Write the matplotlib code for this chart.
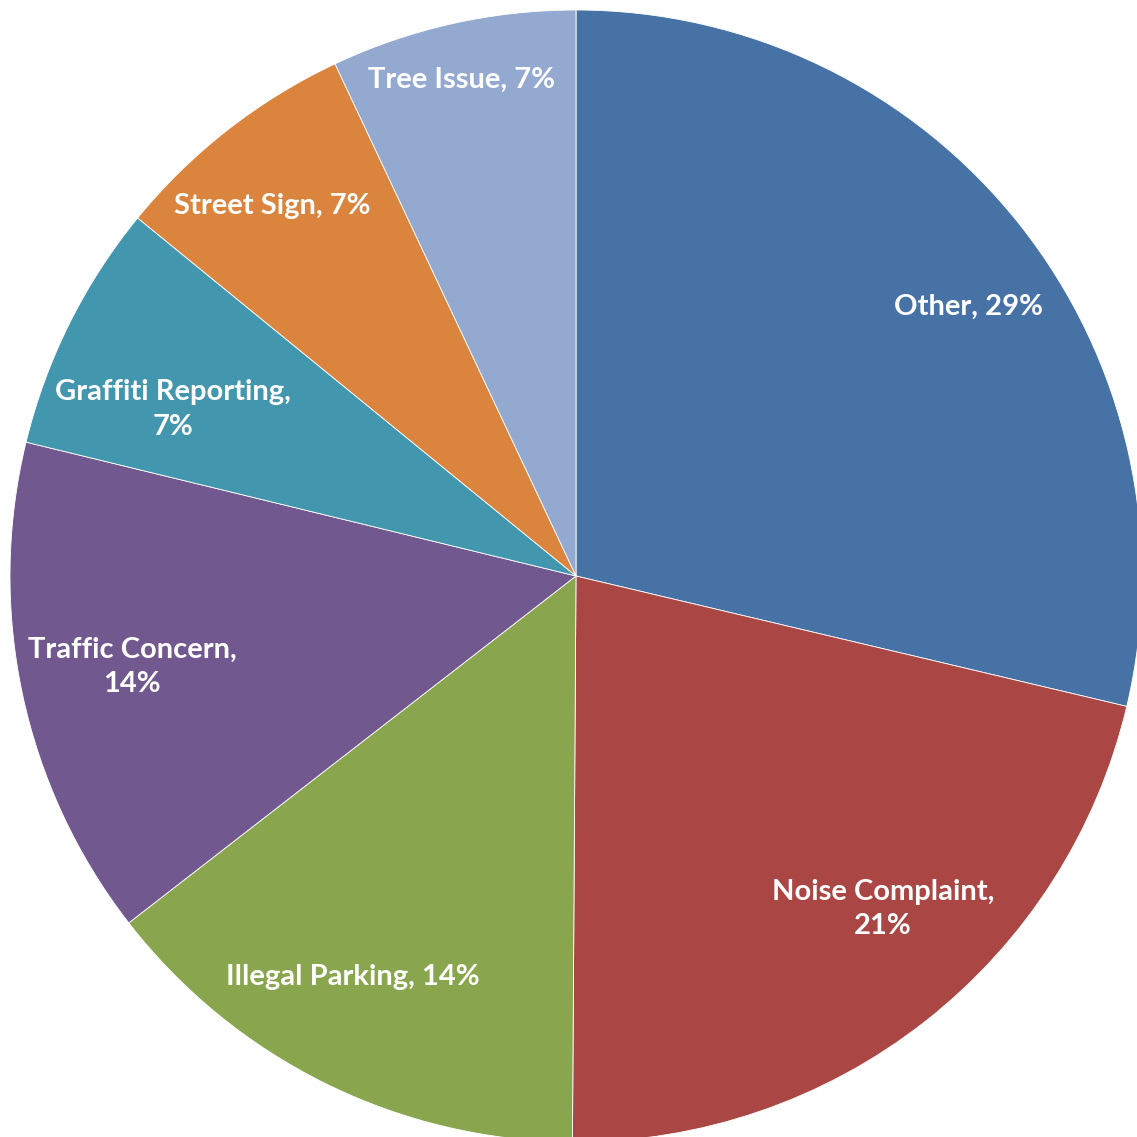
import numpy as np
import matplotlib
matplotlib.use('Agg')
import matplotlib.pyplot as plt

# complaint categories, clockwise from 12 o'clock
categories = ['Other', 'Noise Complaint', 'Illegal Parking', 'Traffic Concern',
              'Graffiti Reporting', 'Street Sign', 'Tree Issue']
shares = [28.7, 21.4, 14.4, 14.3, 7.1, 7.1, 7.0]
colors = ['#4672A6', '#AA4744', '#89A54E', '#71598F', '#4297AF', '#DB843D', '#94A9CF']

# where the label line breaks after the comma
wrapLabel = [False, True, False, True, True, False, False]
# label placement: distance from centre (fraction of radius), angle shift from wedge middle
labelRadius = [0.84, 0.80, 0.81, 0.80, 0.77, 0.845, 0.90]
labelShift = [-3.9, 4.5, -2.8, -0.5, 4.0, 1.4, 0.4]

fig = plt.figure(figsize=(11.37, 11.37), dpi=100)
ax = fig.add_axes([0, 0, 1, 1])

wedges, _ = ax.pie(shares, colors=colors, startangle=90, counterclock=False,
                   radius=1.0, center=(0, 0), normalize=True,
                   wedgeprops=dict(edgecolor='white', linewidth=0.6))

total = sum(shares)
for w, name, s, wrap, r, d in zip(wedges, categories, shares, wrapLabel,
                                  labelRadius, labelShift):
  pct = int(round(100.0 * s / total))
  sep = ',\n' if wrap else ', '
  text = '%s%s%d%%' % (name, sep, pct)
  mid = np.deg2rad((w.theta1 + w.theta2) / 2.0 + d)
  ax.text(r * np.cos(mid), r * np.sin(mid), text, ha='center', va='center',
          color='white', fontsize=21, fontweight='bold', family='Lato',
          linespacing=1.4)

# pie centre sits at pixel (576, 576), radius ~566 px
scale = 566.0
ax.set_xlim(-576 / scale, (1137 - 576) / scale)
ax.set_ylim(-(1137 - 576) / scale, 576 / scale)
ax.set_aspect('equal')
ax.axis('off')

fig.savefig('out.png', dpi=100, facecolor='white')
